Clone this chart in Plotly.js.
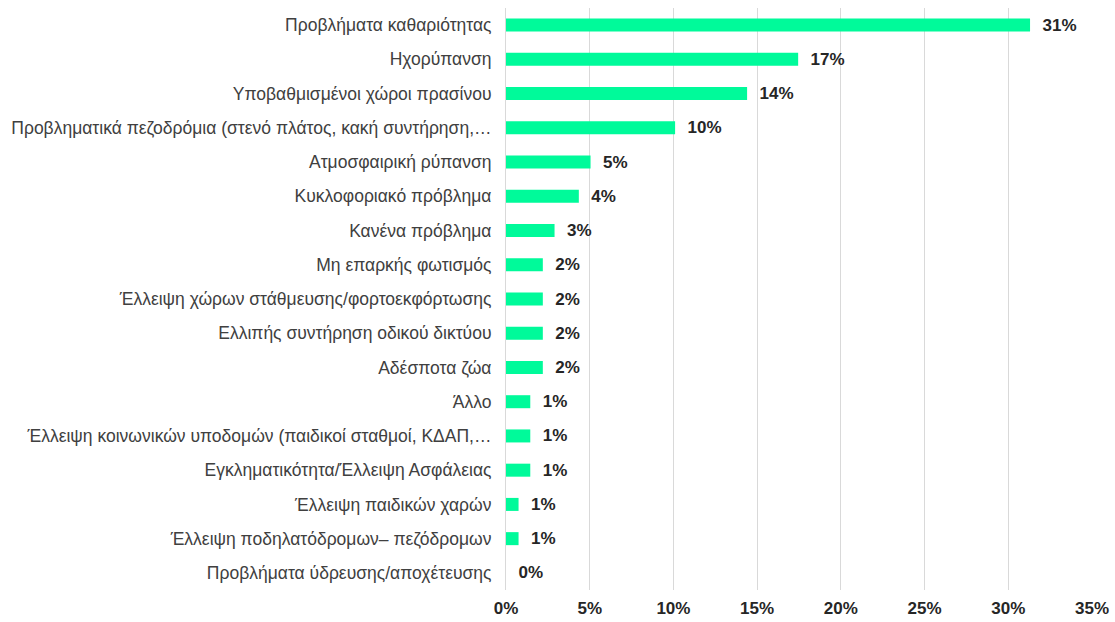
<!DOCTYPE html>
<html>
<head>
<meta charset="utf-8">
<script src="https://cdn.plot.ly/plotly-3.0.1.min.js"></script>
<style>html,body{margin:0;padding:0;background:#fff;}#chart{width:1115px;height:622px;}</style>
</head>
<body>
<div id="chart"></div>
<script>
const categories = [
  "Προβλήματα καθαριότητας",
  "Ηχορύπανση",
  "Υποβαθμισμένοι χώροι πρασίνου",
  "Προβληματικά πεζοδρόμια (στενό πλάτος, κακή συντήρηση,…",
  "Ατμοσφαιρική ρύπανση",
  "Κυκλοφοριακό πρόβλημα",
  "Κανένα πρόβλημα",
  "Μη επαρκής φωτισμός",
  "Έλλειψη χώρων στάθμευσης/φορτοεκφόρτωσης",
  "Ελλιπής συντήρηση οδικού δικτύου",
  "Αδέσποτα ζώα",
  "Άλλο",
  "Έλλειψη κοινωνικών υποδομών (παιδικοί σταθμοί, ΚΔΑΠ,…",
  "Εγκληματικότητα/Έλλειψη Ασφάλειας",
  "Έλλειψη παιδικών χαρών",
  "Έλλειψη ποδηλατόδρομων– πεζόδρομων",
  "Προβλήματα ύδρευσης/αποχέτευσης"
];
const values = [0.313, 0.1745, 0.144, 0.101, 0.0505, 0.0435, 0.029, 0.022, 0.022, 0.022, 0.022, 0.0145, 0.0145, 0.0145, 0.0075, 0.0075, 0.0];
const valueLabels = ["31%", "17%", "14%", "10%", "5%", "4%", "3%", "2%", "2%", "2%", "2%", "1%", "1%", "1%", "1%", "1%", "0%"];
const xTickValues = [0, 0.05, 0.10, 0.15, 0.20, 0.25, 0.30, 0.35];
const xTickLabels = ["0%", "5%", "10%", "15%", "20%", "25%", "30%", "35%"];

const trace = {
  type: "bar",
  orientation: "h",
  x: values,
  y: categories,
  text: valueLabels.map(t => "\u00a0\u00a0" + t),
  textposition: "outside",
  constraintext: "none",
  cliponaxis: false,
  textfont: {family: "Liberation Sans, Arial, sans-serif", size: 17, color: "#262626", weight: "bold"},
  marker: {color: "#00FA9A"},
  hoverinfo: "none"
};

const layout = {
  width: 1115,
  height: 622,
  margin: {l: 506, r: 23, t: 8, b: 32, pad: 0},
  paper_bgcolor: "#fff",
  plot_bgcolor: "#fff",
  bargap: 0.62,
  showlegend: false,
  font: {family: "Liberation Sans, Arial, sans-serif", color: "#404040"},
  xaxis: {
    range: [0, 0.35],
    tickvals: xTickValues,
    ticktext: xTickLabels,
    showgrid: true,
    gridcolor: "#d9d9d9",
    gridwidth: 1,
    zeroline: false,
    showline: false,
    ticks: "",
    ticklabelstandoff: 6,
    tickfont: {family: "Liberation Sans, Arial, sans-serif", size: 17, color: "#262626", weight: "bold"},
    fixedrange: true
  },
  yaxis: {
    type: "category",
    autorange: "reversed",
    showline: true,
    linecolor: "#d9d9d9",
    linewidth: 1,
    showgrid: false,
    ticks: "",
    ticklabelstandoff: 10,
    tickfont: {family: "Liberation Sans, Arial, sans-serif", size: 17.5, color: "#404040"},
    fixedrange: true
  }
};

Plotly.newPlot("chart", [trace], layout, {displayModeBar: false, staticPlot: true});
</script>
</body>
</html>
